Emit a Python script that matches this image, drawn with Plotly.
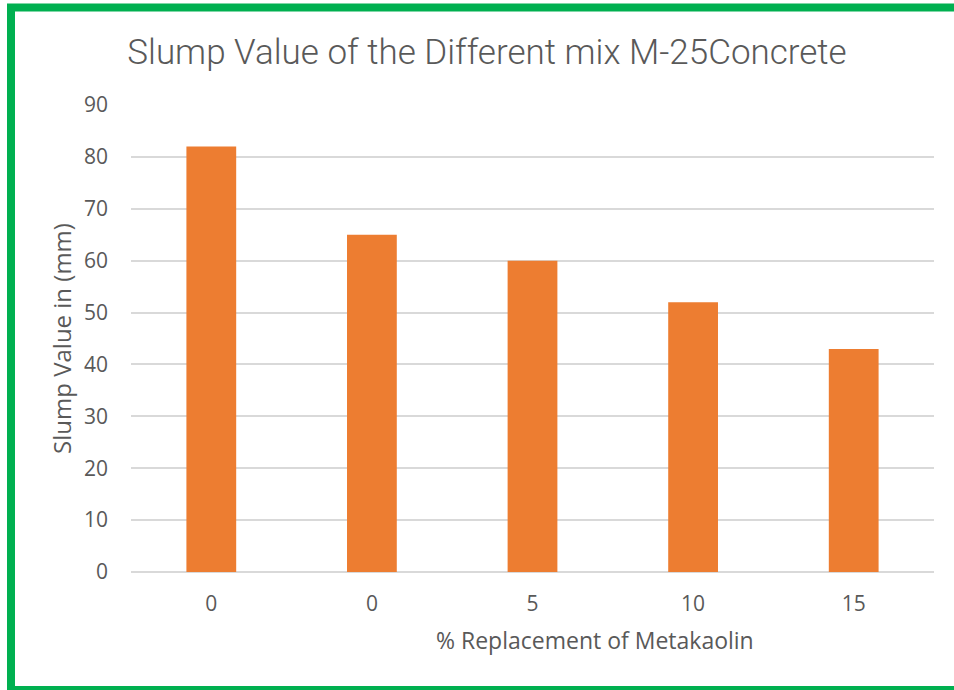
import plotly.graph_objects as go

categories = ["0", "0", "5", "10", "15"]
slump_values = [82, 65, 60, 52, 43]
y_ticks = [0, 10, 20, 30, 40, 50, 60, 70, 80, 90]

positions = list(range(len(categories)))

W, H = 954, 690
L, R, T, B = 131, 20, 105, 118
pw, ph = W - L - R, H - T - B

def px_x(x):
    return (x - L) / pw

def px_y(y):
    return (H - B - y) / ph

font_main = "Open Sans"
grey = "#595959"

fig = go.Figure(go.Bar(
    x=positions,
    y=slump_values,
    marker=dict(color="#ED7D31", line=dict(width=0)),
    width=0.31,
))

fig.update_layout(
    width=W, height=H,
    margin=dict(l=L, r=R, t=T, b=B),
    paper_bgcolor="white",
    plot_bgcolor="white",
    showlegend=False,
    title=dict(
        text="Slump Value of the Different mix M-25Concrete",
        xref="container", yref="container",
        x=487 / W, xanchor="center",
        y=1 - 52 / H, yanchor="middle",
        font=dict(family="Roboto", size=35, weight=300, color=grey),
    ),
    xaxis=dict(
        tickmode="array",
        tickvals=positions,
        ticktext=categories,
        range=[-0.5, len(categories) - 0.5],
        showgrid=False,
        showline=False,
        zeroline=False,
        ticks="",
        ticklabelstandoff=17,
        tickfont=dict(family=font_main, size=21, color=grey),
    ),
    yaxis=dict(
        range=[0, 90],
        tickmode="array",
        tickvals=y_ticks,
        showgrid=True,
        gridcolor="#D9D9D9",
        gridwidth=1.5,
        zeroline=True,
        zerolinecolor="#D9D9D9",
        zerolinewidth=1.5,
        showline=False,
        ticks="",
        ticklabelstandoff=22,
        tickfont=dict(family=font_main, size=21, color=grey),
        title=dict(text="Slump Value in (mm)", standoff=5,
                   font=dict(family=font_main, size=24, color=grey)),
    ),
    annotations=[dict(
        text="% Replacement of Metakaolin",
        xref="paper", yref="paper",
        x=px_x(595), y=px_y(640),
        xanchor="center", yanchor="middle",
        showarrow=False,
        font=dict(family=font_main, size=23, color=grey),
    )],
    shapes=[dict(
        type="rect", xref="paper", yref="paper",
        x0=px_x(11), x1=px_x(962), y0=px_y(690), y1=px_y(7.5),
        line=dict(color="#00B050", width=8),
        fillcolor="rgba(0,0,0,0)",
        layer="above",
    )],
)

fig.write_html(
    "out.html",
    config={"displayModeBar": False},
    post_script="document.body.style.margin='0px';document.body.style.overflow='hidden';",
)
